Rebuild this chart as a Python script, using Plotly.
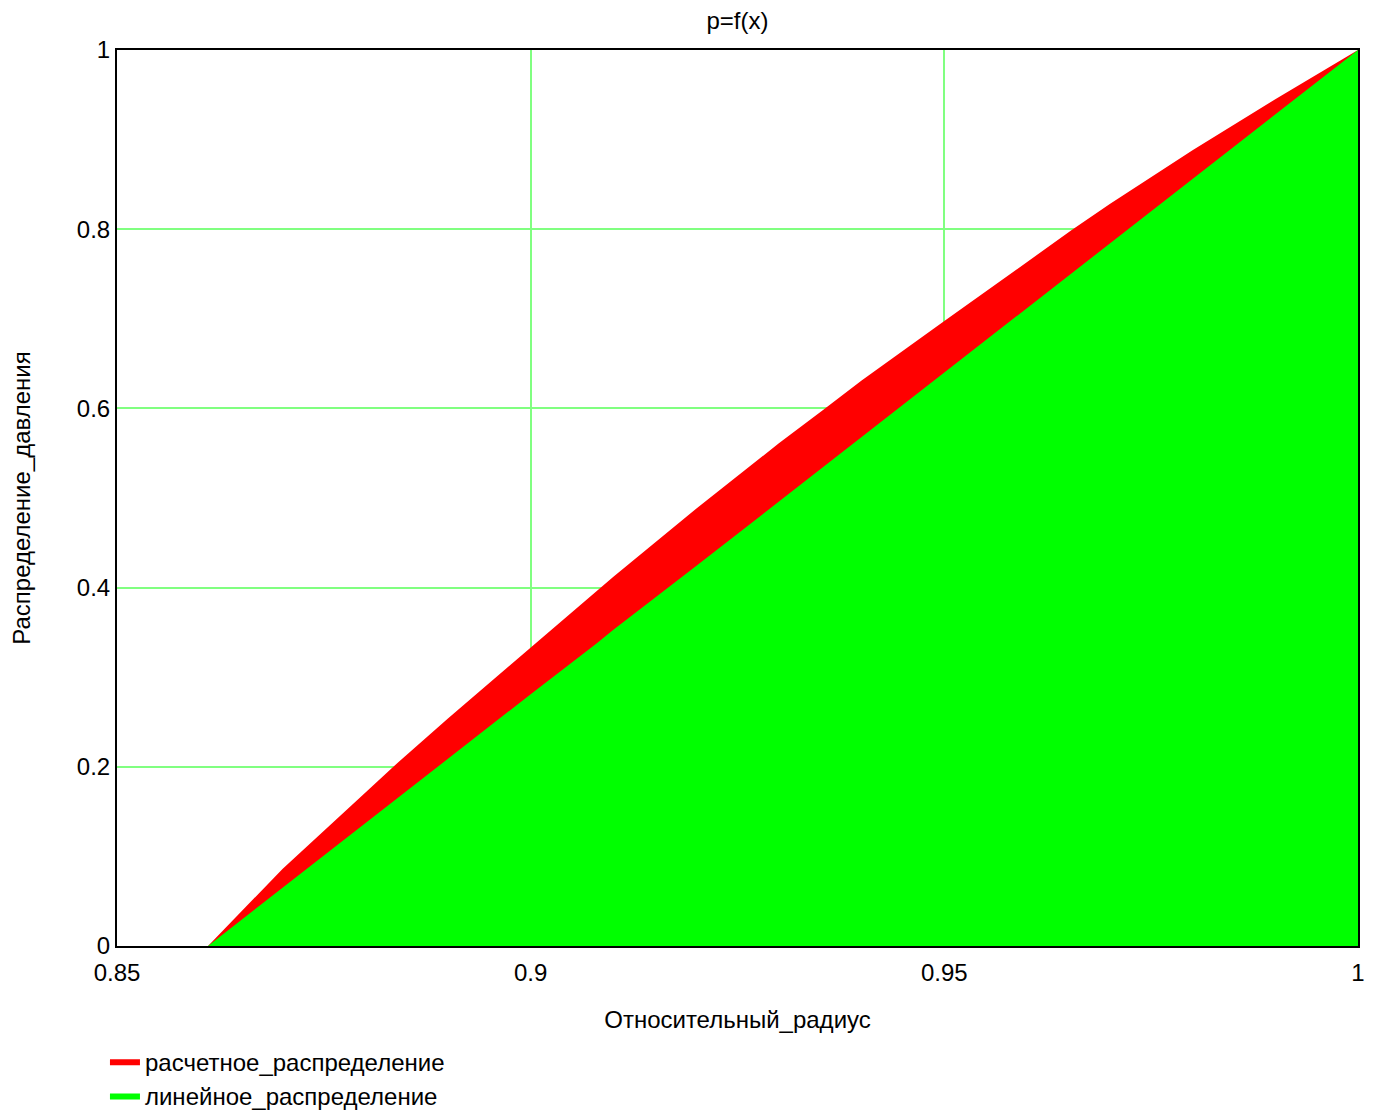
import plotly.graph_objects as go

# Относительный радиус
x_vals = [0.861, 0.87, 0.88, 0.8835, 0.89, 0.9, 0.908, 0.91, 0.92, 0.93, 0.9353, 0.94, 0.95,
          0.96, 0.9654, 0.97, 0.98, 0.99, 1.0]
# расчетное распределение
p_calc = [0.0, 0.086, 0.171, 0.201, 0.254, 0.333, 0.397, 0.412, 0.488, 0.561, 0.598, 0.631, 0.6975,
          0.764, 0.799, 0.828, 0.888, 0.945, 1.0]
# линейное распределение
p_lin = [0.0, 0.065, 0.137, 0.162, 0.209, 0.281, 0.338, 0.353, 0.424, 0.496, 0.534, 0.568, 0.640,
         0.712, 0.751, 0.784, 0.856, 0.928, 1.0]

x_ticks = [0.85, 0.9, 0.95, 1.0]
x_ticktext = ["0.85", "0.9", "0.95", "1"]
y_ticks = [0, 0.2, 0.4, 0.6, 0.8, 1.0]
y_ticktext = ["0", "0.2", "0.4", "0.6", "0.8", "1"]

fig = go.Figure()
fig.add_trace(go.Scatter(x=x_vals, y=p_calc, mode="lines", fill="tozeroy",
                         line=dict(color="#ff0000", width=0), fillcolor="#ff0000",
                         name="расчетное_распределение"))
fig.add_trace(go.Scatter(x=x_vals, y=p_lin, mode="lines", fill="tozeroy",
                         line=dict(color="#00ff00", width=0), fillcolor="#00ff00",
                         name="линейное_распределение"))

font_family = "Liberation Sans, Arial, sans-serif"
fig.update_layout(
    width=1369, height=1130,
    margin=dict(l=109, r=19, t=42, b=192),
    paper_bgcolor="white", plot_bgcolor="white",
    font=dict(family=font_family, color="black", size=24),
    title=dict(text="p=f(x)", x=0.5, xref="paper", xanchor="center",
               y=1 - 13 / 1130, yanchor="middle", font=dict(size=24)),
    showlegend=True,
    legend=dict(x=-0.0097, xanchor="left", y=-0.104, yanchor="top", orientation="v",
                font=dict(size=24), bgcolor="rgba(0,0,0,0)", tracegroupgap=0,
                itemwidth=30),
    xaxis=dict(range=[0.85, 1.0], tickvals=x_ticks, ticktext=x_ticktext,
               showgrid=True, gridcolor="#80ff80", gridwidth=1.5, zeroline=False,
               showline=True, linecolor="black", linewidth=2, mirror=True,
               layer="below traces", ticks="", tickfont=dict(size=24),
               ticklabelstandoff=4, automargin=False,
               title=dict(text="Относительный_радиус", font=dict(size=24), standoff=26)),
    yaxis=dict(range=[0, 1.0], tickvals=y_ticks, ticktext=y_ticktext,
               showgrid=True, gridcolor="#80ff80", gridwidth=1.5, zeroline=False,
               showline=True, linecolor="black", linewidth=2, mirror=True,
               layer="below traces", ticks="", tickfont=dict(size=24),
               automargin=False,
               title=dict(text="Распределение_давления", font=dict(size=24), standoff=42)),
)

fig.write_html("out.html")
